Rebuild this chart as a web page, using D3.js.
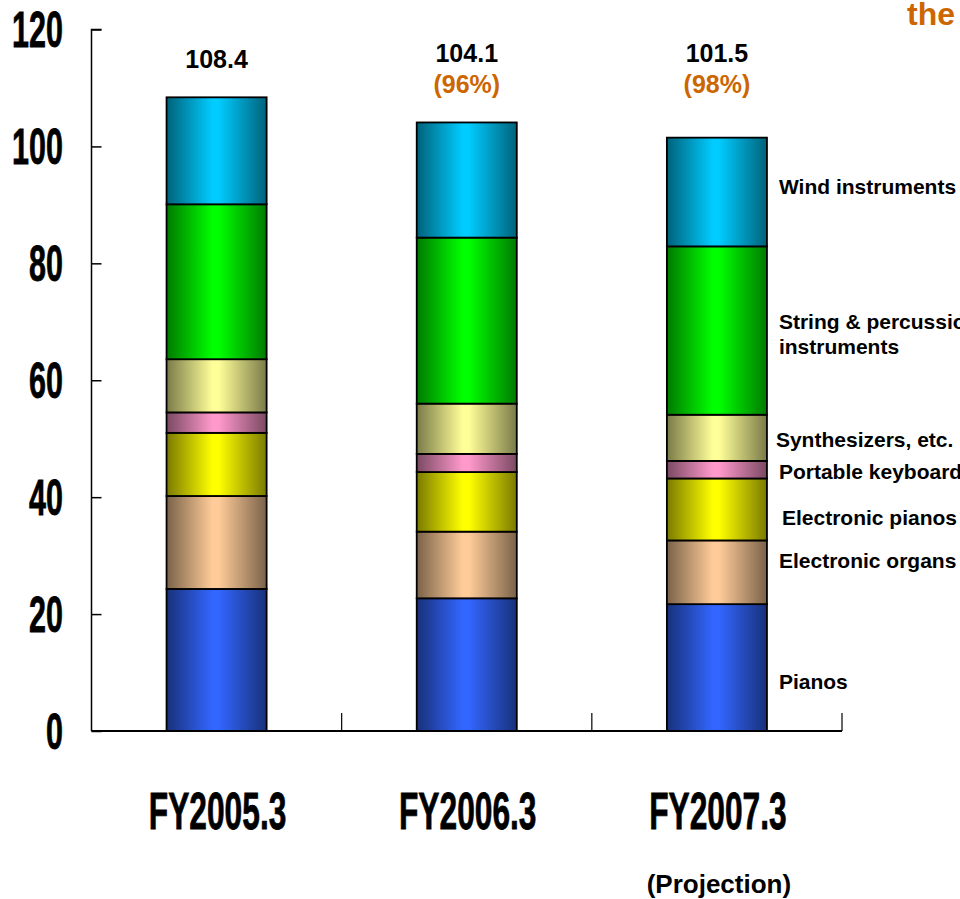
<!DOCTYPE html>
<html>
<head>
<meta charset="utf-8">
<script src="https://cdn.jsdelivr.net/npm/d3@7"></script>
<style>
  html, body { margin: 0; padding: 0; background: #fff; }
  svg { display: block; }
  text { font-family: "Liberation Sans", Arial, Helvetica, sans-serif; font-weight: bold; }
</style>
</head>
<body>
<svg id="chart" width="960" height="899"></svg>
<script>
// Fiscal years on the x axis
const categories = ["FY2005.3", "FY2006.3", "FY2007.3"];

// Product segments, stacked bottom to top (sales, billions of yen)
const segments = ["Pianos", "Electronic organs", "Electronic pianos", "Portable keyboards",
                  "Synthesizers, etc.", "String & percussion instruments", "Wind instruments"];
const pianos      = [24.3, 22.7, 21.7];
const organs      = [15.9, 11.4, 10.9];
const ePianos     = [10.8, 10.2, 10.6];
const portable    = [3.5, 3.1, 3.0];
const synths      = [9.1, 8.6, 7.9];
const strings     = [26.5, 28.4, 28.8];
const wind        = [18.3, 19.7, 18.6];

// Totals and year-on-year ratios printed above the bars
const totals   = [108.4, 104.1, 101.5];
const ratios   = [null, "(96%)", "(98%)"];
const yTicks   = [0, 20, 40, 60, 80, 100, 120];
const footNote = "(Projection)";

// Segment colours (centre highlight); edges are shaded darker
const colors = ["#3366ff", "#ffcc99", "#ffff00", "#ff99cc", "#ffff99", "#00ff00", "#00ccff"];
// Right-hand label nudges [dx, dy] relative to the last bar's segment middle
const labelNudge = [[12, 14], [12, -12], [15, 8], [12, 2], [9, 2], [12, 3], [12, -6]];

const svg = d3.select("#chart");
const margin = { left: 91.5, right: 118, top: 29.5, bottom: 168 };
const W = 960, H = 899;

const x = d3.scaleBand().domain(categories).range([margin.left, W - margin.right]).paddingInner(0.6).paddingOuter(0.3);
const xOuter = d3.scaleBand().domain(categories).range([margin.left, W - margin.right]);
const y = d3.scaleLinear().domain([0, 120]).range([H - margin.bottom, margin.top]);

const seriesValues = [pianos, organs, ePianos, portable, synths, strings, wind];
const rows = categories.map((c, i) => {
  const r = { cat: c };
  segments.forEach((s, k) => { r[s] = seriesValues[k][i]; });
  return r;
});
const stacked = d3.stack().keys(segments)(rows);

// Horizontal "cylinder" gradients
const defs = svg.append("defs");
colors.forEach((c, k) => {
  const g = defs.append("linearGradient").attr("id", "grad" + k)
    .attr("x1", "0").attr("x2", "1").attr("y1", "0").attr("y2", "0");
  const base = d3.rgb(c);
  const edge = d3.rgb(base.r * 0.48, base.g * 0.48, base.b * 0.48);
  g.append("stop").attr("offset", "0%").attr("stop-color", edge);
  g.append("stop").attr("offset", "46%").attr("stop-color", c);
  g.append("stop").attr("offset", "52%").attr("stop-color", c);
  g.append("stop").attr("offset", "100%").attr("stop-color", edge);
});

// Bars
const layers = svg.append("g").selectAll("g").data(stacked).join("g")
  .attr("fill", (d, k) => `url(#grad${k})`);
layers.selectAll("rect").data(d => d).join("rect")
  .attr("x", d => x(d.data.cat))
  .attr("width", x.bandwidth())
  .attr("y", d => y(d[1]))
  .attr("height", d => y(d[0]) - y(d[1]))
  .attr("stroke", "#000")
  .attr("stroke-width", 1.8);

// Y axis: ticks pointing inward
const yAxis = svg.append("g").attr("transform", `translate(${margin.left},0)`)
  .call(d3.axisRight(y).tickValues(yTicks).tickSize(10).tickFormat(""));
yAxis.select(".domain").attr("d", `M0,${y(0)}V${y(120)}H10`).attr("stroke", "#000").attr("stroke-width", 1.5);
yAxis.selectAll(".tick line").attr("stroke", "#000").attr("stroke-width", 1.5);

// Y tick labels (condensed)
svg.append("g").selectAll("text").data(yTicks).join("text")
  .attr("transform", d => `translate(63,${y(d) + 17.5}) scale(0.61,1)`)
  .attr("text-anchor", "end")
  .attr("font-size", 50)
  .attr("fill", "#000")
  .attr("stroke", "#000").attr("stroke-width", 0.8)
  .text(d => d);

// X axis with separator ticks between categories
const xAxis = svg.append("g").attr("transform", `translate(0,${y(0)})`);
xAxis.append("line").attr("x1", margin.left).attr("x2", W - margin.right)
  .attr("stroke", "#000").attr("stroke-width", 1.8);
xAxis.selectAll(".sep").data(categories).join("line").attr("class", "sep")
  .attr("x1", d => xOuter(d) + xOuter.bandwidth()).attr("x2", d => xOuter(d) + xOuter.bandwidth())
  .attr("y1", 0).attr("y2", -18)
  .attr("stroke", "#000").attr("stroke-width", 1.2);

// Category labels (condensed)
svg.append("g").selectAll("text").data(categories).join("text")
  .attr("transform", d => `translate(${x(d) + x.bandwidth() / 2 + 1},829) scale(0.61,1)`)
  .attr("text-anchor", "middle")
  .attr("font-size", 52)
  .attr("fill", "#000")
  .attr("stroke", "#000").attr("stroke-width", 0.8)
  .text(d => d);

// Projection note under the last year
svg.append("text")
  .attr("x", x(categories[2]) + x.bandwidth() / 2 + 2)
  .attr("y", 893)
  .attr("text-anchor", "middle")
  .attr("font-size", 26)
  .attr("fill", "#000")
  .text(footNote);

// Totals and ratios above bars
const totalsG = svg.append("g");
categories.forEach((c, i) => {
  const cx = x(c) + x.bandwidth() / 2;
  totalsG.append("text")
    .attr("x", cx).attr("y", ratios[i] ? 62 : 68)
    .attr("text-anchor", "middle").attr("font-size", 25).attr("fill", "#000")
    .text(totals[i].toFixed(1));
  if (ratios[i]) {
    totalsG.append("text")
      .attr("x", cx).attr("y", 93)
      .attr("text-anchor", "middle").attr("font-size", 25).attr("fill", "#cc6600")
      .text(ratios[i]);
  }
});

// Segment labels to the right of the last bar
const last = categories.length - 1;
const labelG = svg.append("g");
stacked.forEach((layer, k) => {
  const seg = layer[last];
  const lx = x(categories[last]) + x.bandwidth() + labelNudge[k][0];
  const ly = y((seg[0] + seg[1]) / 2) + labelNudge[k][1];
  const name = segments[k];
  const t = labelG.append("text").attr("font-size", 21).attr("fill", "#000");
  if (name === "String & percussion instruments") {
    t.append("tspan").attr("x", lx).attr("y", ly - 5).text("String & percussion");
    t.append("tspan").attr("x", lx).attr("y", ly + 20).text("instruments");
  } else {
    t.attr("x", lx).attr("y", ly + 7.5).text(name);
  }
});

// Heading fragment at the top right
svg.append("text").attr("x", 907).attr("y", 25)
  .attr("font-size", 32).attr("fill", "#cc6600").text("the");
</script>
</body>
</html>
